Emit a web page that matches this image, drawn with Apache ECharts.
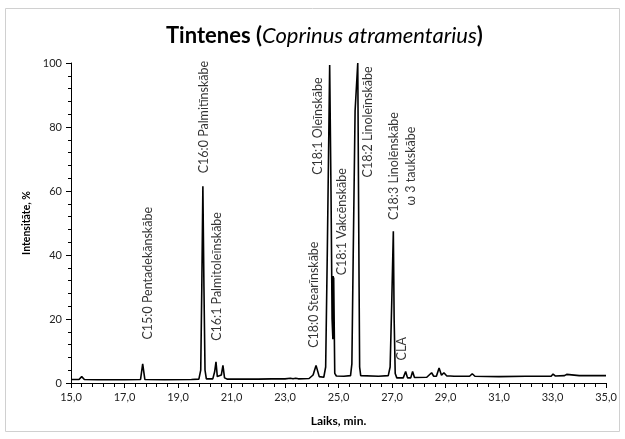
<!DOCTYPE html>
<html>
<head>
<meta charset="utf-8">
<script src="https://cdn.jsdelivr.net/npm/echarts@6/dist/echarts.min.js"></script>
<style>
  html, body { margin: 0; padding: 0; background: #fff; }
  #main { width: 625px; height: 439px; }
</style>
</head>
<body>
<div id="main"></div>
<script>
// retention time, min
const times = [
  15.0, 15.3, 15.4, 15.5, 16.0, 17.0, 17.6, 17.68, 17.76, 18.5,
  19.5, 19.78, 19.85, 19.89, 19.93, 19.97, 20.01, 20.06, 20.3, 20.37,
  20.42, 20.47, 20.53, 20.62, 20.68, 20.74, 20.85, 21.5, 22.0, 22.5,
  23.0, 23.2, 23.3, 23.4, 23.5, 23.9, 24.05, 24.16, 24.28, 24.45,
  24.52, 24.58, 24.67, 24.72, 24.76, 24.79, 24.8, 24.81, 24.82, 24.86,
  24.92, 25.2, 25.45, 25.5, 25.55, 25.62, 25.72, 25.75, 25.77, 25.79,
  25.83, 25.9, 26.5, 26.86, 26.93, 26.99, 27.05, 27.08, 27.12, 27.18,
  27.42, 27.51, 27.58, 27.7, 27.77, 27.84, 28.3, 28.48, 28.56, 28.66,
  28.76, 28.85, 28.94, 29.05, 29.18, 29.25, 29.32, 29.9, 30.0, 30.1,
  31.0, 32.0, 32.95, 33.02, 33.1, 33.45, 33.53, 33.6, 34.0, 34.5, 35.0
];

// intensity, %
const intensity = [
  1.1, 1.1, 2.0, 1.1, 1.0, 1.0, 1.1, 6.0, 1.1, 1.0,
  1.1, 1.2, 4.0, 30, 61.5, 30, 4.0, 1.3, 1.3, 3.5,
  6.6, 2.0, 1.5, 2.5, 5.5, 1.6, 1.2, 1.2, 1.2, 1.3,
  1.3, 1.5, 1.3, 1.5, 1.3, 1.4, 2.5, 5.5, 2.0, 1.8,
  5.0, 40, 99.4, 60, 20, 13.7, 33.4, 14, 33, 3.0,
  2.2, 2.1, 2.3, 6.0, 40, 85, 100, 100, 30, 5.0,
  2.3, 2.1, 2.1, 2.3, 5.0, 25, 47.4, 20, 3.0, 1.6,
  1.6, 3.6, 1.6, 1.6, 3.6, 1.7, 1.8, 3.2, 2.1, 2.1,
  4.7, 2.4, 3.2, 2.2, 2.2, 2.7, 2.1, 2.1, 2.9, 2.1,
  2.0, 2.1, 2.1, 2.8, 2.2, 2.3, 2.7, 2.3, 2.3, 2.3, 2.3
];

// peak annotations: text, time, intensity (label centre)
const peakNames = [
  'C15:0 Pentadekānskābe',
  'C16:0 Palmitīnskābe',
  'C16:1 Palmitoleīnskābe',
  'C18:0 Stearīnskābe',
  'C18:1 Oleīnskābe',
  'C18:1 Vakcēnskābe',
  'C18:2 Linoleīnskābe',
  'C18:3 Linolēnskābe\nω 3 taukskābe',
  'CLA'
];
const peakTimes = [17.89, 19.97, 20.45, 24.08, 24.25, 25.12, 26.11, 27.39, 27.36];
const peakLevels = [34.3, 83.1, 33.3, 27.6, 80.3, 50.4, 81.6, 67.8, 10.7];

const xTicks = { min: 15, max: 35, step: 2 };
const yTicks = { min: 0, max: 100, step: 20 };

const font = 'Lato, "Noto Sans", sans-serif';

const chart = echarts.init(document.getElementById('main'));

const option = {
  backgroundColor: '#ffffff',
  animation: false,
  textStyle: { fontFamily: font },
  title: {
    text: '{b|Tintenes (}{i|Coprinus atramentarius}{b|)}',
    left: 161,
    top: 20,
    textStyle: {
      rich: {
        b: { fontFamily: font, fontWeight: 'bold', fontSize: 22, color: '#000' },
        i: { fontFamily: font, fontStyle: 'italic', fontWeight: 'normal', fontSize: 22, color: '#000' }
      }
    }
  },
  graphic: [{
    type: 'rect',
    shape: { x: 5.5, y: 8.5, width: 614, height: 423 },
    style: { fill: 'none', stroke: '#d0d0d0', lineWidth: 1 },
    silent: true
  }],
  grid: { left: 71, right: 19, top: 63, bottom: 56 },
  xAxis: {
    type: 'value',
    min: xTicks.min,
    max: xTicks.max,
    interval: xTicks.step,
    name: 'Laiks, min.',
    nameLocation: 'middle',
    nameGap: 32,
    nameTextStyle: { fontFamily: font, fontWeight: 'bold', fontSize: 12, color: '#000' },
    axisLine: { lineStyle: { color: '#000', width: 1 } },
    axisTick: { inside: false, length: 5, lineStyle: { color: '#000' } },
    minorTick: { show: true, splitNumber: 5, length: 4, lineStyle: { color: '#000' } },
    splitLine: { show: false },
    axisLabel: {
      color: '#222',
      fontSize: 11,
      margin: 9,
      formatter: v => v.toFixed(1).replace('.', ',')
    }
  },
  yAxis: {
    type: 'value',
    min: yTicks.min,
    max: yTicks.max,
    interval: yTicks.step,
    name: 'Intensitāte, %',
    nameLocation: 'middle',
    nameGap: 38,
    nameTextStyle: { fontFamily: font, fontWeight: 'bold', fontSize: 10.5, color: '#000' },
    axisLine: { show: true, lineStyle: { color: '#000', width: 1 } },
    axisTick: { show: true, inside: false, length: 5, lineStyle: { color: '#000' } },
    minorTick: { show: true, splitNumber: 5, length: 3, lineStyle: { color: '#000' } },
    splitLine: { show: false },
    axisLabel: { color: '#222', fontSize: 11, margin: 9 }
  },
  series: [
    {
      type: 'line',
      data: times.map((t, i) => [t, intensity[i]]),
      showSymbol: false,
      symbol: 'none',
      lineStyle: { color: '#000', width: 1.6 },
      clip: true,
      z: 3
    },
    {
      type: 'scatter',
      data: peakTimes.map((t, i) => ({ value: [t, peakLevels[i]], name: peakNames[i] })),
      symbolSize: 0,
      silent: true,
      label: {
        show: true,
        position: 'inside',
        rotate: 90,
        align: 'center',
        verticalAlign: 'middle',
        lineHeight: 17,
        fontFamily: font,
        fontSize: 12.5,
        color: '#000',
        formatter: p => p.name
      },
      z: 4
    }
  ]
};

chart.setOption(option);
</script>
</body>
</html>
